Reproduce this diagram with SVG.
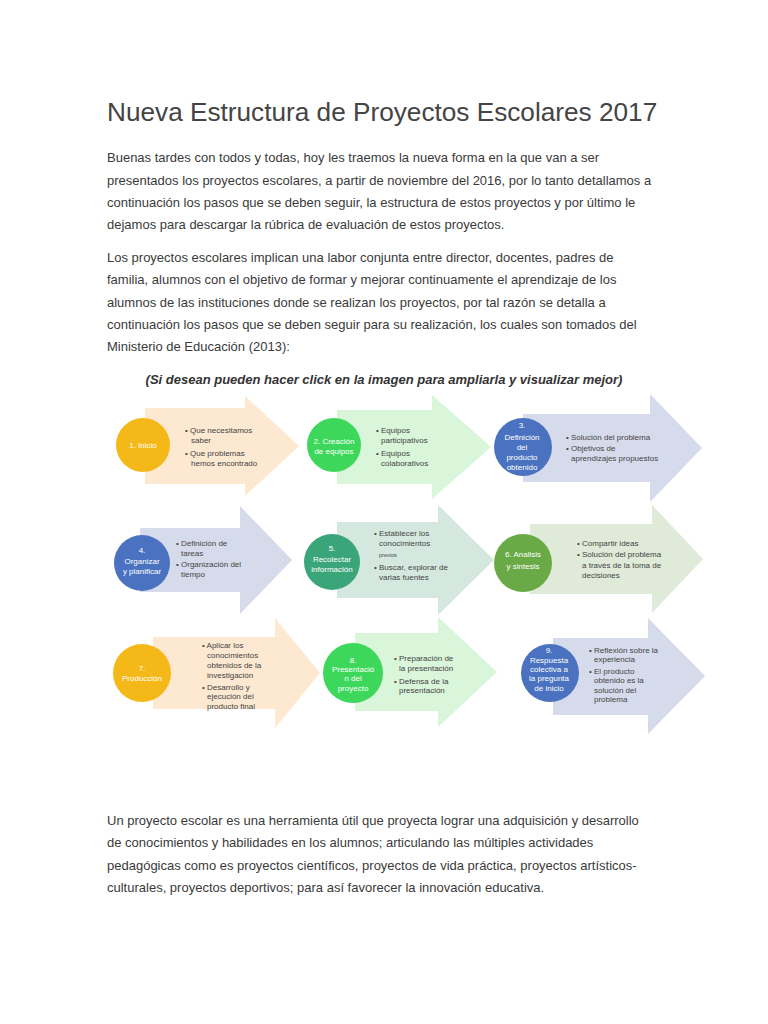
<svg xmlns="http://www.w3.org/2000/svg" width="768" height="1024" viewBox="0 0 768 1024">
<style>
.title{font-family:"Liberation Sans",Arial,sans-serif;font-size:26.2px;fill:#444}
.p{font-family:"Liberation Sans",Arial,sans-serif;font-size:13px;fill:#3a3a3a}
.cap{font-family:"Liberation Sans",Arial,sans-serif;font-size:13px;font-weight:bold;font-style:italic;fill:#333}
.c{font-family:"Liberation Sans Narrow","Liberation Sans",sans-serif;font-size:8px;fill:#fff;text-anchor:middle}
.b{font-family:"Liberation Sans Narrow","Liberation Sans",sans-serif;font-size:8px;fill:#444}
.peach{fill:#fde8d1}.lgreen{fill:#d9f5da}.lav{fill:#d6dbec}.teal{fill:#d4e8df}.olive{fill:#dfead8}
.yel{fill:#f4b919}.grn{fill:#3dd85b}.blu{fill:#4a72c0}.tgr{fill:#3ba57a}.ogr{fill:#6aaa46}
</style>
<rect width="768" height="1024" fill="#fff"/>
<text class="title" x="107" y="121">Nueva Estructura de Proyectos Escolares 2017</text>
<text class="p" x="107" y="162">Buenas tardes con todos y todas, hoy les traemos la nueva forma en la que van a ser</text>
<text class="p" x="107" y="184.5">presentados los proyectos escolares, a partir de noviembre del 2016, por lo tanto detallamos a</text>
<text class="p" x="107" y="207">continuación los pasos que se deben seguir, la estructura de estos proyectos y por último le</text>
<text class="p" x="107" y="229">dejamos para descargar la rúbrica de evaluación de estos proyectos.</text>
<text class="p" x="107" y="262">Los proyectos escolares implican una labor conjunta entre director, docentes, padres de</text>
<text class="p" x="107" y="284">familia, alumnos con el objetivo de formar y mejorar continuamente el aprendizaje de los</text>
<text class="p" x="107" y="306.5">alumnos de las instituciones donde se realizan los proyectos, por tal razón se detalla a</text>
<text class="p" x="107" y="329">continuación los pasos que se deben seguir para su realización, los cuales son tomados del</text>
<text class="p" x="107" y="351">Ministerio de Educación (2013):</text>
<text class="cap" x="384" y="384" text-anchor="middle">(Si desean pueden hacer click en la imagen para ampliarla y visualizar mejor)</text>

<g id="step1">
<polygon class="peach" points="145,408 245,408 245,396 299,446 245,496 245,484 145,484"/>
<circle class="yel" cx="143" cy="445" r="27"/>
<text class="c" x="143" y="448">1. Inicio</text>
<text class="b" x="185" y="433">• Que necesitamos</text>
<text class="b" x="191" y="443">saber</text>
<text class="b" x="185" y="456">• Que problemas</text>
<text class="b" x="191" y="466">hemos encontrado</text>
</g>
<g id="step2">
<polygon class="lgreen" points="337,410 432,410 432,395 491,447 432,499 432,484 337,484"/>
<circle class="grn" cx="334" cy="445" r="27"/>
<text class="c" x="334" y="444">2. Creación</text>
<text class="c" x="334" y="454">de equipos</text>
<text class="b" x="376" y="433">• Equipos</text>
<text class="b" x="381" y="443">participativos</text>
<text class="b" x="376" y="456">• Equipos</text>
<text class="b" x="381" y="466">colaborativos</text>
</g>
<g id="step3">
<polygon class="lav" points="523,414 650,414 650,394 702,448 650,502 650,482 523,482"/>
<circle class="blu" cx="523" cy="447" r="29"/>
<text class="c" x="522" y="428">3.</text>
<text class="c" x="522" y="440">Definición</text>
<text class="c" x="522" y="450">del</text>
<text class="c" x="522" y="460">producto</text>
<text class="c" x="522" y="470">obtenido</text>
<text class="b" x="566" y="440">• Solución del problema</text>
<text class="b" x="566" y="451">• Objetivos de</text>
<text class="b" x="571" y="461">aprendizajes propuestos</text>
</g>
<g id="step4">
<polygon class="lav" points="140,528 240,528 240,506 292,560 240,614 240,592 140,592"/>
<circle class="blu" cx="142" cy="563" r="28"/>
<text class="c" x="142" y="553">4.</text>
<text class="c" x="142" y="564">Organizar</text>
<text class="c" x="142" y="574">y planificar</text>
<text class="b" x="176" y="546">• Definición de</text>
<text class="b" x="181" y="556">tareas</text>
<text class="b" x="176" y="567">• Organización del</text>
<text class="b" x="181" y="577">tiempo</text>
</g>
<g id="step5">
<polygon class="teal" points="337,522 438,522 438,505 494,560 438,615 438,598 337,598"/>
<circle class="tgr" cx="332" cy="562" r="28"/>
<text class="c" x="332" y="551">5.</text>
<text class="c" x="332" y="562">Recolectar</text>
<text class="c" x="332" y="572">información</text>
<text class="b" x="374" y="536">• Establecer los</text>
<text class="b" x="379" y="546">conocimientos</text>
<text class="b" x="379" y="557" style="font-size:5.5px">previos</text>
<text class="b" x="374" y="570">• Buscar, explorar de</text>
<text class="b" x="379" y="580">varias fuentes</text>
</g>
<g id="step6">
<polygon class="olive" points="530,524 652,524 652,505 703,559 652,613 652,594 530,594"/>
<circle class="ogr" cx="523" cy="563" r="29"/>
<text class="c" x="523" y="557">6. Analisis</text>
<text class="c" x="523" y="569">y sintesis</text>
<text class="b" x="577" y="546">• Compartir ideas</text>
<text class="b" x="577" y="557">• Solución del problema</text>
<text class="b" x="582" y="568">a través de la toma de</text>
<text class="b" x="582" y="578">decisiones</text>
</g>
<g id="step7">
<polygon class="peach" points="153,637 275,637 275,618 320,673 275,728 275,709 153,709"/>
<circle class="yel" cx="142" cy="673" r="29"/>
<text class="c" x="142" y="671">7.</text>
<text class="c" x="142" y="681">Producción</text>
<text class="b" x="202" y="648">• Aplicar los</text>
<text class="b" x="207" y="658">conocimientos</text>
<text class="b" x="207" y="668">obtenidos de la</text>
<text class="b" x="207" y="678">investigación</text>
<text class="b" x="202" y="690">• Desarrollo y</text>
<text class="b" x="207" y="699">ejecución del</text>
<text class="b" x="207" y="709">producto final</text>
</g>
<g id="step8">
<polygon class="lgreen" points="355,633 438,633 438,617 497,672 438,727 438,711 355,711"/>
<circle class="grn" cx="353" cy="673" r="30"/>
<text class="c" x="353" y="663">8.</text>
<text class="c" x="353" y="672">Presentació</text>
<text class="c" x="353" y="681">n del</text>
<text class="c" x="353" y="691">proyecto</text>
<text class="b" x="394" y="661">• Preparación de</text>
<text class="b" x="399" y="671">la presentación</text>
<text class="b" x="394" y="684">• Defensa de la</text>
<text class="b" x="399" y="693">presentación</text>
</g>
<g id="step9">
<polygon class="lav" points="553,638 648,638 648,618 705,676 648,734 648,715 553,715"/>
<circle class="blu" cx="550" cy="673" r="29"/>
<text class="c" x="549" y="653">9.</text>
<text class="c" x="549" y="663">Respuesta</text>
<text class="c" x="549" y="672">colectiva a</text>
<text class="c" x="549" y="681">la pregunta</text>
<text class="c" x="549" y="691">de inicio</text>
<text class="b" x="589" y="653">• Reflexión sobre la</text>
<text class="b" x="594" y="662">experiencia</text>
<text class="b" x="589" y="674">• El producto</text>
<text class="b" x="594" y="683">obtenido es la</text>
<text class="b" x="594" y="693">solución del</text>
<text class="b" x="594" y="702">problema</text>
</g>
<g id="connectors"></g>

<text class="p" x="107" y="825">Un proyecto escolar es una herramienta útil que proyecta lograr una adquisición y desarrollo</text>
<text class="p" x="107" y="847">de conocimientos y habilidades en los alumnos; articulando las múltiples actividades</text>
<text class="p" x="107" y="869.5">pedagógicas como es proyectos científicos, proyectos de vida práctica, proyectos artísticos-</text>
<text class="p" x="107" y="892">culturales, proyectos deportivos; para así favorecer la innovación educativa.</text>
</svg>
